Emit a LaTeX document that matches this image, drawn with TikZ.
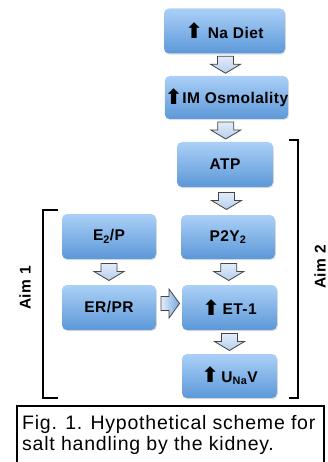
\documentclass[tikz,border=0pt]{standalone}
\usepackage{fontspec}
\setmainfont{Liberation Sans}
\newfontfamily\symfont{DejaVu Sans}
\usetikzlibrary{calc,shadows}

\definecolor{boxtop}{HTML}{ABD0F7}
\definecolor{boxbot}{HTML}{5C98D8}
\definecolor{arrowtop}{HTML}{E2ECF9}
\definecolor{arrowbot}{HTML}{B7CEEE}
\definecolor{arrowright}{HTML}{78A8E0}
\definecolor{arrowline}{HTML}{454545}

\newcommand{\upar}{{\symfont\fontsize{21}{21}\selectfont\raisebox{-0.5pt}{⬆}}}

\tikzset{
  stage/.style={rounded corners=5pt, top color=boxtop, bottom color=boxbot,
    inner sep=0pt, minimum width=95pt, minimum height=45pt,
    font=\bfseries\fontsize{15.5}{18}\selectfont\addfontfeature{LetterSpace=3},
    drop shadow={opacity=0.25, shadow xshift=0.8pt, shadow yshift=-1.2pt}},
  aim/.style={rotate=90, inner sep=0pt, font=\bfseries\fontsize{15.5}{18}\selectfont\addfontfeature{LetterSpace=3}},
  bracket/.style={line width=1.3pt, black},
  downarrow/.pic={
    \path[draw=arrowline, line width=0.8pt, top color=arrowtop, bottom color=arrowbot]
      (-8,-8.5) -- (8,-8.5) -- (8,-0.5) -- (15,-0.5) -- (0,8.5)
      -- (-15,-0.5) -- (-8,-0.5) -- cycle;},
  rightarrow/.pic={
    \path[draw=arrowline, line width=0.8pt, left color=arrowtop, right color=arrowright]
      (-9,-7) -- (-1,-7) -- (-1,-14.5) -- (9.5,0) -- (-1,14.5)
      -- (-1,7) -- (-9,7) -- cycle;}
}

\begin{document}
\begin{tikzpicture}[x=1pt, y=-1pt]
\useasboundingbox (0,0) rectangle (328,462);

% main chain
\node[stage, minimum width=121pt] (diet) at (224.5,31) {\upar\ Na Diet};
\node[stage, minimum width=121pt, minimum height=43pt] (osmo) at (226.5,97.5) {\upar IM Osmolality};
\node[stage, minimum width=96pt] (atp) at (225,164.5) {ATP};
\node[stage, minimum width=94pt, minimum height=44pt] (ptwo) at (228,237) {P2Y\textsubscript{2}};
\node[stage] (et) at (229.5,307.5) {\upar\,ET-1};
\node[stage, minimum height=44pt] (una) at (229.5,376) {\upar\,U\textsubscript{Na}V};

% hormone side
\node[stage, minimum width=94pt] (ep) at (109,236.5) {E\textsubscript{2}/P};
\node[stage, minimum width=94pt] (erpr) at (109,307.5) {ER/PR};

\foreach \a/\b in {diet/osmo, osmo/atp, atp/ptwo, ptwo/et, et/una, ep/erpr} {
\pic at ($(\a.south)!.5!(\b.north)$) {downarrow};}
\pic at ($(erpr.east)!.5!(et.west)+(1,-4)$) {rightarrow};

% aims
\draw[bracket] (58,210) -- (43,210) -- (43,398) -- (58,398);
\draw[bracket] (289,140) -- (298,140) -- (298,398) -- (289,398);
\node[aim] (aimone) at (25,288) {Aim 1};
\node[aim] (aimtwo) at (320,267) {Aim 2};

% caption
\draw[line width=1.3pt] (17,475) -- (17,406) -- (324,406) -- (324,475);
\node[anchor=north west, inner sep=0pt, align=left,
  font=\fontsize{19.5}{21}\selectfont\addfontfeature{LetterSpace=4}] (caption) at (22,415)
  {Fig. 1. Hypothetical scheme for\\salt handling by the kidney.};
\end{tikzpicture}
\end{document}
